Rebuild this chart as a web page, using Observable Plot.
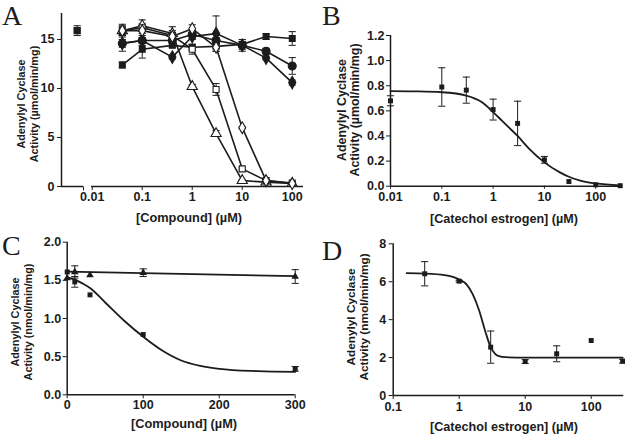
<!DOCTYPE html>
<html><head><meta charset="utf-8">
<script src="https://cdn.jsdelivr.net/npm/d3@7"></script>
<script src="https://cdn.jsdelivr.net/npm/@observablehq/plot@0.6"></script>
<style>
body{margin:0;background:#fff;}
#fig{position:relative;width:625px;height:436px;overflow:hidden;font-family:"Liberation Sans",Arial,sans-serif;color:#1c1c1c;background:#fff;}
#fig svg text{font-size:12.5px;font-weight:bold;font-family:"Liberation Sans",Arial,sans-serif;}
.letter{position:absolute;font-family:"Liberation Serif","Times New Roman",serif;font-size:28px;line-height:31px;}
.xt{position:absolute;font-weight:bold;transform:translate(-50%,-50%);white-space:nowrap;line-height:1;}
.yt{position:absolute;font-weight:bold;transform:translate(-50%,-50%) rotate(-90deg);white-space:nowrap;text-align:center;}
</style></head><body><div id="fig"></div>
<script>
// ---------- Panel A data ----------
const xA = [0.04, 0.1, 0.4, 1, 3, 10, 30, 100];
const aCtrlX = [0.005];
const aCtrlY = [15.9];
const aCtrlErr = [0.5];
const aFilledSquare = [12.4, 14.0, 14.4, 14.2, 14.3, 14.5, 15.3, 15.1];
const aFilledSquareErr = [0.3, 0.9, 0.2, 0.3, 0.2, 0.3, 0.3, 0.7];
const aFilledCircle = [14.6, 14.9, 14.9, 15.5, 14.9, 14.4, 13.8, 12.3];
const aFilledCircleErr = [0.8, 0.5, 0.3, 0.4, 0.3, 0.6, 0.3, 0.85];
const aFilledDiamond = [14.6, 14.9, 13.2, 15.3, 15.6, 14.4, 13.1, 10.6];
const aFilledDiamondErr = [0.4, 0.3, 0.2, 0.3, 1.8, 0.4, 0.2, 0.25];
const aOpenTriangle = [15.9, 16.4, 15.6, 10.2, 5.4, 0.6, 0.45, 0.3];
const aOpenTriangleErr = [0.5, 0.6, 0.7, 0.2, 0.3, 0.1, 0.1, 0.1];
const aOpenSquare = [15.9, 16.2, 15.4, 14.0, 9.9, 1.8, 0.6, 0.35];
const aOpenSquareErr = [0.65, 0.4, 0.5, 0.5, 0.6, 0.1, 0.1, 0.1];
const aOpenDiamond = [15.9, 15.9, 15.3, 16.1, 14.2, 6.0, 0.6, 0.3];
const aOpenDiamondErr = [0.4, 0.3, 0.4, 0.4, 0.4, 0.1, 0.1, 0.1];
const xTicksA = [0.01, 0.1, 1, 10, 100];
const yTicksA = [0, 5, 10, 15];

// ---------- Panel B data ----------
const xB = [0.01, 0.1, 0.3, 1, 3, 10, 30, 100, 300];
const bY = [0.68, 0.79, 0.765, 0.61, 0.50, 0.21, 0.037, 0.011, 0.004];
const bErr = [0.04, 0.153, 0.104, 0.083, 0.177, 0.027, 0, 0, 0];
const bFitX = [0.01, 0.03, 0.1, 0.3, 0.6, 1, 1.5, 2, 3, 5, 10, 20, 30, 50, 100, 300];
const bFitY = [0.757, 0.755, 0.748, 0.722, 0.67, 0.59, 0.52, 0.47, 0.40, 0.30, 0.19, 0.11, 0.075, 0.045, 0.022, 0.007];
const xTicksB = [0.01, 0.1, 1, 10, 100];
const yTicksB = [0, 0.2, 0.4, 0.6, 0.8, 1.0, 1.2];

// ---------- Panel C data ----------
const xC = [0, 10, 30, 100, 300];
const cTriangle = [1.53, 1.61, 1.57, 1.60, 1.55];
const cTriangleErr = [0, 0.08, 0, 0.05, 0.09];
const cSquare = [1.61, 1.48, 1.31, 0.79, 0.34];
const cSquareErr = [0, 0.07, 0, 0, 0.03];
const cFlatFitX = [0, 300];
const cFlatFitY = [1.615, 1.555];
const cFitX = [0, 10, 20, 30, 50, 75, 100, 125, 150, 175, 200, 250, 300];
const cFitY = [1.54, 1.51, 1.46, 1.40, 1.21, 0.97, 0.76, 0.58, 0.45, 0.38, 0.34, 0.31, 0.30];
const xTicksC = [0, 100, 200, 300];
const yTicksC = [0, 0.5, 1.0, 1.5, 2.0];

// ---------- Panel D data ----------
const xD = [0.3, 1, 3, 10, 30, 100, 300];
const dY = [6.42, 6.03, 2.55, 1.79, 2.2, 2.9, 1.81];
const dErr = [0.64, 0.05, 0.85, 0.1, 0.42, 0, 0.1];
const dFitX = [0.16, 0.3, 0.6, 1, 1.3, 1.6, 2, 2.5, 3, 3.5, 4, 5, 10, 300];
const dFitY = [6.45, 6.43, 6.35, 6.12, 5.85, 5.35, 4.5, 3.35, 2.55, 2.2, 2.08, 2.02, 2.0, 2.0];
const xTicksD = [0.1, 1, 10, 100];
const yTicksD = [0, 2, 4, 6, 8];

// ---------- helpers ----------
const ink = "#1c1c1c";
const fig = document.getElementById("fig");
const rows = (xs, ys, es) => xs.map((x, i) => ({x, y: ys[i], lo: ys[i] - (es ? es[i] : 0), hi: ys[i] + (es ? es[i] : 0), e: es ? es[i] : 0}));
const CAP = {draw(ctx) { ctx.moveTo(-3.6, 0); ctx.lineTo(3.6, 0); }};
const VTICK = {draw(ctx) { ctx.moveTo(0, 0); ctx.lineTo(0, 4); }};
function errMarks(data) {
  const d = data.filter(r => r.e > 0);
  return [
    Plot.ruleX(d, {x: "x", y1: "lo", y2: "hi", stroke: ink, strokeWidth: 1}),
    Plot.dot(d, {x: "x", y: "lo", symbol: CAP, fill: "none", stroke: ink, strokeWidth: 1}),
    Plot.dot(d, {x: "x", y: "hi", symbol: CAP, fill: "none", stroke: ink, strokeWidth: 1})
  ];
}
const fmt = d => String(d);
const style = {background: "transparent", fontFamily: "Liberation Sans, Arial, sans-serif", fontSize: "12px", fontWeight: "bold", color: ink, overflow: "visible"};
function place(svg, left, top) {
  svg.style.position = "absolute";
  svg.style.left = left + "px";
  svg.style.top = top + "px";
  svg.style.maxWidth = "none";
  fig.appendChild(svg);
}
function addText(cls, html, x, y, size, lh) {
  const el = document.createElement("div");
  el.className = cls;
  el.innerHTML = html;
  el.style.left = x + "px";
  el.style.top = y + "px";
  if (size) el.style.fontSize = size + "px";
  if (lh) el.style.lineHeight = lh + "px";
  fig.appendChild(el);
}

// ---------- Panel A ----------
{
  const xDom = [0.00243, 168];
  const brk = [0.0067, 0.0097];
  const segs = [{x1: xDom[0], x2: brk[0]}, {x1: brk[1], x2: xDom[1]}];
  const series = [
    {v: aFilledSquare, e: aFilledSquareErr, symbol: "square", open: false, r: 3.3},
    {v: aFilledCircle, e: aFilledCircleErr, symbol: "circle", open: false, r: 4},
    {v: aFilledDiamond, e: aFilledDiamondErr, symbol: "diamond", open: false, r: 3.8},
    {v: aOpenTriangle, e: aOpenTriangleErr, symbol: "triangle", open: true, r: 3.8},
    {v: aOpenSquare, e: aOpenSquareErr, symbol: "square", open: true, r: 3.4},
    {v: aOpenDiamond, e: aOpenDiamondErr, symbol: "diamond", open: true, r: 3.6}
  ];
  const marks = [
    Plot.ruleX([xDom[0]], {stroke: ink, strokeWidth: 1.5}),
    Plot.ruleY(segs, {x1: "x1", x2: "x2", y: () => 0, stroke: ink, strokeWidth: 1.5}),
    Plot.dot([brk[0]], {x: d => d, y: () => 0, symbol: VTICK, fill: "none", stroke: ink, strokeWidth: 1})
  ];
  const ctrl = rows(aCtrlX, aCtrlY, aCtrlErr);
  marks.push(...errMarks(ctrl));
  for (const s of series) marks.push(...errMarks(rows(xA, s.v, s.e)));
  for (const s of series) marks.push(Plot.line(rows(xA, s.v), {x: "x", y: "y", stroke: ink, strokeWidth: 1.6}));
  for (const s of series) marks.push(Plot.dot(rows(xA, s.v), {x: "x", y: "y", symbol: s.symbol, r: s.r, fill: s.open ? "white" : ink, stroke: ink, strokeWidth: 1.1}));
  marks.push(Plot.dot(ctrl, {x: "x", y: "y", symbol: "square", r: 3.3, fill: ink, stroke: ink}));
  place(Plot.plot({
    width: 312, height: 210, marginLeft: 61, marginRight: 9, marginTop: 13, marginBottom: 24,
    x: {type: "log", domain: xDom, ticks: xTicksA, tickFormat: fmt, tickSize: 4, tickPadding: 2, label: null},
    y: {domain: [0, 17.65], ticks: yTicksA, tickSize: 4, tickPadding: 3, label: null},
    style, marks
  }), 0, 0);
}

// ---------- Panel B ----------
{
  const xDom = [0.01, 328];
  const pts = rows(xB, bY, bErr);
  place(Plot.plot({
    width: 315, height: 210, marginLeft: 80, marginRight: 3.3, marginTop: 35, marginBottom: 24.3,
    x: {type: "log", domain: xDom, ticks: xTicksB, tickFormat: fmt, tickSize: 3, tickPadding: 3, label: null},
    y: {domain: [0, 1.2], ticks: yTicksB, tickFormat: d => d.toFixed(1), tickSize: 4, tickPadding: 2, label: null},
    style,
    marks: [
      Plot.ruleX([xDom[0]], {stroke: ink, strokeWidth: 1.5}),
      Plot.ruleY([0], {stroke: ink, strokeWidth: 1.5}),
      Plot.line(rows(bFitX, bFitY), {x: "x", y: "y", stroke: ink, strokeWidth: 1.8, curve: "monotone-x"}),
      ...errMarks(pts),
      Plot.dot(pts, {x: "x", y: "y", symbol: "square", r: 2.8, fill: ink})
    ]
  }), 310, 0);
}

// ---------- Panel C ----------
{
  const tri = rows(xC, cTriangle, cTriangleErr);
  const sq = rows(xC, cSquare, cSquareErr);
  place(Plot.plot({
    width: 312, height: 205, marginLeft: 66.7, marginRight: 17.3, marginTop: 26.7, marginBottom: 25.7,
    x: {domain: [0, 300], ticks: xTicksC, tickFormat: fmt, tickSize: 4, tickPadding: 1, label: null},
    y: {domain: [0, 2], ticks: yTicksC, tickFormat: d => d.toFixed(1), tickSize: 4, tickPadding: 2, label: null},
    style,
    marks: [
      Plot.ruleX([0], {stroke: ink, strokeWidth: 1.5}),
      Plot.ruleY([0], {stroke: ink, strokeWidth: 1.5}),
      Plot.line(rows(cFlatFitX, cFlatFitY), {x: "x", y: "y", stroke: ink, strokeWidth: 1.8}),
      Plot.line(rows(cFitX, cFitY), {x: "x", y: "y", stroke: ink, strokeWidth: 1.8, curve: "monotone-x"}),
      ...errMarks(tri), ...errMarks(sq),
      Plot.dot(tri, {x: "x", y: "y", symbol: "triangle", r: 2.8, fill: ink}),
      Plot.dot(sq, {x: "x", y: "y", symbol: "square", r: 2.8, fill: ink})
    ]
  }), 0, 215);
}

// ---------- Panel D ----------
{
  const xDom = [0.1, 312];
  const pts = rows(xD, dY, dErr);
  place(Plot.plot({
    width: 315, height: 205, marginLeft: 82.7, marginRight: 1.7, marginTop: 28.3, marginBottom: 25,
    x: {type: "log", domain: xDom, ticks: xTicksD, tickFormat: fmt, tickSize: 4, tickPadding: 3, label: null},
    y: {domain: [0, 8], ticks: yTicksD, tickSize: 4, tickPadding: 3, label: null},
    style,
    marks: [
      Plot.ruleX([xDom[0]], {stroke: ink, strokeWidth: 1.5}),
      Plot.ruleY([0], {stroke: ink, strokeWidth: 1.5}),
      Plot.line(rows(dFitX, dFitY), {x: "x", y: "y", stroke: ink, strokeWidth: 1.8, curve: "monotone-x"}),
      ...errMarks(pts),
      Plot.dot(pts, {x: "x", y: "y", symbol: "square", r: 2.8, fill: ink})
    ]
  }), 310, 215);
}

// ---------- Text ----------
addText("letter", "A", 2, 0);
addText("letter", "B", 322, 0);
addText("letter", "C", 2, 230);
addText("letter", "D", 322, 235);
addText("yt", "Adenylyl Cyclase<br>Activity (\u00b5mol/min/mg)", 27.5, 104, 10.85, 13);
addText("yt", "Adenylyl Cyclase<br>Activity (\u00b5mol/min/mg)", 347.7, 109.5, 12.4, 12.5);
addText("yt", "Adenylyl Cyclase<br>Activity (nmol/min/mg)", 21.7, 322, 10.85, 13.3);
addText("yt", "Adenylyl Cyclase<br>Activity (nmol/min/mg)", 357.5, 317, 11.8, 13);
addText("xt", "[Compound] (\u00b5M)", 189, 218, 12.8);
addText("xt", "[Catechol estrogen] (\u00b5M)", 504, 219, 12.6);
addText("xt", "[Compound] (\u00b5M)", 184, 424, 12.8);
addText("xt", "[Catechol estrogen] (\u00b5M)", 504, 427, 12.6);
</script></body></html>
